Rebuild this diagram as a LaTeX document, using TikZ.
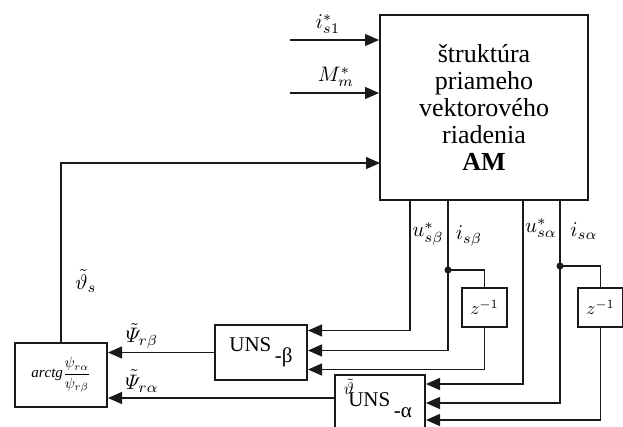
\documentclass[tikz,border=0pt]{standalone}
\usepackage{amsmath,amssymb}
\usepackage{fontspec}
\setmainfont{Liberation Serif}
\usetikzlibrary{
  arrows.meta,
  positioning,
  calc
}
\definecolor{linedark}{HTML}{1A1A1A}
\newcommand{\sigmath}[2][2]{\scalebox{#1}{$#2$}}
\tikzset{
  block/.style={
    draw=linedark, line width=2pt, fill=white,
    inner sep=2pt, align=center, text=black,
  },
  sigline/.style={
    draw=linedark, line width=1.3pt,
  },
  sigarrow/.style={
    sigline, -{Triangle[length=14pt,width=12pt]},
  },
  sigdot/.style={
    circle, fill=linedark, inner sep=0pt, minimum size=7pt,
  },
  siglabel/.style={
    text=black, inner sep=1pt,
  },
}

\begin{document}
\begin{tikzpicture}[x=1pt,y=-1pt]
  \useasboundingbox (0,0) rectangle (623,426);

  % ─── Main control block ───────────────────────────────────────────────
  \node[block, minimum width=208pt, minimum height=185pt,
        font=\fontsize{26}{27}\selectfont]
    (main) at (484,107.5)
    {štruktúra\\priameho\\vektorového\\riadenia\\\textbf{AM}};

  % reference inputs
  \coordinate (isref) at (290,40);
  \coordinate (mref) at (290,93);
  \draw[sigarrow] (isref) -- (isref -| main.west);
  \draw[sigarrow] (mref) -- (mref -| main.west);
  \node[siglabel] at (328,24) {\sigmath[2.1]{i_{s1}^{*}}};
  \node[siglabel] at (336,77) {\sigmath[2.1]{M_{m}^{*}}};

  % ─── Angle block ──────────────────────────────────────────────────────
  \node[block, minimum width=92pt, minimum height=64pt]
    (atg) at (61,375)
    {\sigmath[1.5]{\mathit{arctg}\dfrac{\psi_{r\alpha}}{\psi_{r\beta}}}};

  % feedback of the angle to the main block
  \coordinate (angin) at (380,163);
  \draw[sigarrow] (atg.north) |- (angin);
  \node[siglabel] at (86,281) {\sigmath[2.1]{\tilde{\vartheta}_{s}}};

  % ─── Flux estimators ──────────────────────────────────────────────────
  \node[block, minimum width=92pt, minimum height=55pt,
        font=\fontsize{21}{23}\selectfont, anchor=center]
    (unsb) at (261,352.5) {UNS\,\raisebox{-0.55em}{-β}};
  \node[block, minimum width=90pt, minimum height=60pt,
        font=\fontsize{21}{23}\selectfont]
    (unsa) at (380,405) {UNS\,\raisebox{-0.55em}{-α}};
  \node[siglabel]
    (overlap) at (349,387) {\sigmath[1.7]{\tilde{\vartheta}}};

  \draw[sigarrow] (unsb.west) -- (unsb.west -| atg.east);
  \draw[sigarrow] ([yshift=7pt]unsa.west) -- ([yshift=-23pt]atg.east);
  \node[siglabel] at (142,336) {\sigmath[2.1]{\tilde{\varPsi}_{r\beta}}};
  \node[siglabel] at (142,381) {\sigmath[2.1]{\tilde{\varPsi}_{r\alpha}}};

  % ─── Delay blocks ─────────────────────────────────────────────────────
  \node[block, minimum width=45pt, minimum height=39pt]
    (zb) at (484.5,307.5) {\sigmath[1.8]{z^{-1}}};
  \node[block, minimum width=45pt, minimum height=39pt]
    (za) at (600.5,307.5) {\sigmath[1.8]{z^{-1}}};

  % ─── Signals from the main block ─────────────────────────────────────
  \coordinate (usb) at (410,200);
  \coordinate (isb) at (448,200);
  \coordinate (usa) at (523,200);
  \coordinate (isa) at (560,200);
  \node[sigdot] (db) at (448,270) {};
  \node[sigdot] (da) at (560,266) {};

  % beta branch
  \draw[sigarrow] (usb) |- ([yshift=22pt]unsb.east);
  \draw[sigline] (isb) -- (db.center);
  \draw[sigarrow] (db.center) |- ([yshift=2pt]unsb.east);
  \draw[sigline] (db.center) -| (zb.north);
  \draw[sigarrow] (zb.south) |- ([yshift=-17pt]unsb.east);

  % alpha branch
  \draw[sigarrow] (usa) |- ([yshift=21pt]unsa.east);
  \draw[sigline] (isa) -- (da.center);
  \draw[sigarrow] (da.center) |- ([yshift=2pt]unsa.east);
  \draw[sigline] (da.center) -| (za.north);
  \draw[sigarrow] (za.south) |- ([yshift=-15pt]unsa.east);

  \node[siglabel] at (428,234) {\sigmath[2.1]{u_{s\beta}^{*}}};
  \node[siglabel] at (469,236) {\sigmath[2.1]{i_{s\beta}}};
  \node[siglabel] at (541,228) {\sigmath[2.1]{u_{s\alpha}^{*}}};
  \node[siglabel] at (584,231) {\sigmath[2.1]{i_{s\alpha}}};

\end{tikzpicture}
\end{document}
